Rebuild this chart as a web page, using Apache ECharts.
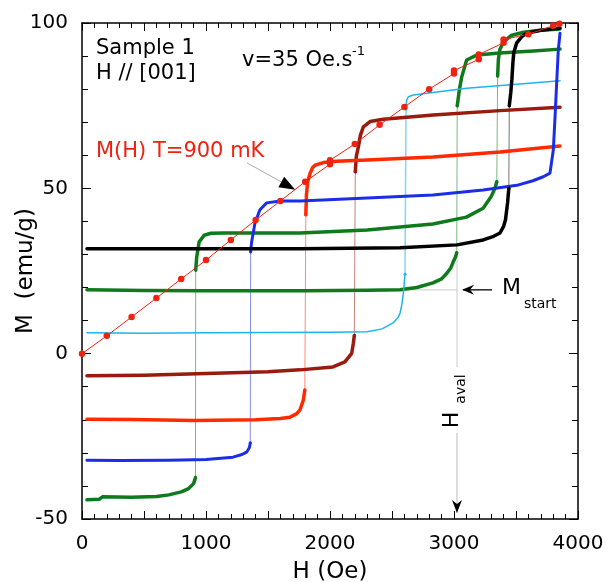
<!DOCTYPE html>
<html><head><meta charset="utf-8">
<script src="https://cdn.jsdelivr.net/npm/echarts@6/dist/echarts.min.js"></script>
<style>html,body{margin:0;padding:0;background:#fff}#c{width:608px;height:582px}</style>
</head><body><div id="c"></div>
<script>
// ---- tick labels ----
const xTickLabels = [0, 1000, 2000, 3000, 4000];
const yTickLabels = [-50, 0, 50, 100];

// ---- data: [H (Oe), M (emu/g)] ----
// dark green curve 1 (starts -44, avalanches at ~917 and ~3350)
const green1A = [[40,-44.2],[140,-44],[165,-43.3],[400,-43.4],[600,-43.2],[700,-42.7],[800,-41.8],[860,-40.8],[900,-39.3],[915,-37.5]];
const green1B = [[917,25.3],[925,29.2],[945,33.8],[985,35.8],[1040,36.4],[1150,36.5],[1760,36.5],[2300,37.4],[2830,39.2],[3100,41.3],[3235,44],[3300,47.5],[3330,50],[3345,52]];
const green1C = [[3352,84],[3358,89],[3370,92],[3400,94.3],[3460,96.2],[3560,97.2],[3700,97.8],[3855,98.2]];
// dark green curve 2 (starts 19.3 = Mstart, avalanche at Haval ~3024)
const green2A = [[40,19.3],[500,19.1],[1000,19],[1800,19],[2300,19.2],[2565,19.3],[2700,20],[2830,21.4],[2900,22.6],[2944,24.4],[2975,26],[2993,27.7],[3012,29.2],[3022,30.5]];
const green2B = [[3026,75],[3043,79.7],[3062,83.7],[3102,88.8],[3183,90.3],[3371,90.9],[3640,91.5],[3855,92.1]];
// black
const blackA = [[40,31.7],[1000,31.7],[1760,31.7],[2565,32],[3024,32.9],[3235,34.4],[3320,35.5],[3371,36.5],[3400,38.5],[3415,40.4],[3432,45.6],[3442,50]];
const blackB = [[3446,75],[3458,79],[3467,83],[3475,88],[3482,91],[3506,94],[3550,96],[3590,97],[3700,97.8],[3855,98.5]];
// blue
const blueA = [[40,-32.2],[300,-32.3],[700,-32.2],[1000,-32],[1218,-31.3],[1290,-30.5],[1330,-29.7],[1350,-28.4],[1357,-27]];
const blueB = [[1360,30.8],[1368,33.8],[1395,39.5],[1435,43.5],[1489,45.6],[1597,46.2],[1760,46.2],[2300,47.1],[2830,48],[3235,49.5],[3507,50.9],[3636,52.3],[3720,53.5],[3774,54.6],[3801,61.6],[3815,71.7],[3828,81.8],[3841,91.8],[3855,96.9]];
// red
const redA = [[40,-19.8],[400,-19.9],[900,-20.2],[1400,-20],[1600,-19.6],[1677,-19.2],[1730,-18.2],[1758,-17],[1785,-14],[1797,-11]];
const redB = [[1805,42],[1810,48],[1820,52],[1839,54.5],[1860,56.3],[1880,57],[1946,57.8],[2050,58.2],[2300,58.6],[2830,59.5],[3371,61],[3855,62.8]];
// maroon
const maroonA = [[40,-6.7],[500,-6.5],[1000,-6],[1500,-5.5],[1758,-4.9],[2024,-4],[2120,-2.5],[2175,0.1],[2188,3.1],[2196,5.5]];
const maroonB = [[2204,55],[2212,59.6],[2229,62.6],[2245,66],[2269,68.6],[2323,70.2],[2430,70.9],[2833,72.2],[3371,73.5],[3855,74.5]];
// light blue
const cyanA = [[40,6.3],[500,6.2],[1000,6.3],[1500,6.4],[2000,6.5],[2300,6.6],[2420,7.5],[2508,9.3],[2550,11],[2565,12.3],[2580,15],[2592,18.4],[2605,24]];
const cyanB = [[2613,74],[2618,76.7],[2632,77.7],[2672,78.2],[3102,80.3],[3855,82.5]];
// M(H) at T = 900 mK
const mhH = [0,200,400,600,800,1000,1200,1400,1600,1800,2000,2000,2200,2400,2600,2800,3000,3000,3200,3200,3400,3400,3600,3800,3850];
const mhM = [0,5.4,11.1,16.8,22.6,28.3,34.4,40.4,46.2,52,57.3,58.5,63.4,69.2,74.6,80,84.7,85.6,89,90.5,94,95,96.6,99.2,99.8];

// ---- styles ----
const C = {green:'#0e7a1c', black:'#000000', blue:'#1c2de8', red:'#ff2a00', maroon:'#9a1a0e', cyan:'#1cb4f0', mh:'#ee2211'};
const FONT = 'DejaVu Sans';

const groups = [
  {branches:[green1A, green1B, green1C], color:C.green, w:3.5, jw:1},
  {branches:[green2A, green2B], color:C.green, w:3.5, jw:1},
  {branches:[cyanA, cyanB], color:C.cyan, w:1.5, jw:1.5},
  {branches:[maroonA, maroonB], color:C.maroon, w:3.5, jw:1},
  {branches:[redA, redB], color:C.red, w:3.5, jw:1},
  {branches:[blueA, blueB], color:C.blue, w:3, jw:1},
  {branches:[blackA, blackB], color:C.black, w:3.5, jw:1}
];

const series = [];
groups.forEach(g => {
  for (let i = 0; i < g.branches.length - 1; i++) {
    const a = g.branches[i], b = g.branches[i+1];
    series.push({type:'line', data:[a[a.length-1], b[0]], symbol:'circle', symbolSize:3, showSymbol:true,
      itemStyle:{color:g.color}, lineStyle:{color:g.color, width:g.jw, opacity:0.55}, z:2, animation:false, silent:true});
  }
});
groups.forEach(g => {
  g.branches.forEach(br => {
    series.push({type:'line', data:br, symbol:'none', lineStyle:{color:g.color, width:g.w, cap:'round', join:'round'}, z:3, animation:false, silent:true});
  });
});
series.push({type:'line', data:mhH.map((h,i)=>[h, mhM[i]]), symbol:'circle', symbolSize:6.5,
  itemStyle:{color:C.mh}, lineStyle:{color:C.mh, width:1}, z:4, animation:false, silent:true});

const axisCommon = {
  axisLine:{show:true, onZero:false, lineStyle:{color:'#000', width:1.5}},
  splitLine:{show:false},
  nameMoveOverlap:false
};

const chart = echarts.init(document.getElementById('c'), null, {renderer:'canvas'});
chart.setOption({
  backgroundColor:'#fff',
  animation:false,
  grid:{left:82, right:30, top:23, bottom:63, containLabel:false, outerBoundsMode:'none'},
  xAxis:[
    Object.assign({type:'value', min:0, max:4000, interval:500, position:'bottom',
      name:'H (Oe)', nameLocation:'middle', nameGap:42, nameTextStyle:{fontFamily:FONT, fontSize:23, color:'#000'},
      axisTick:{inside:true, length:8, lineStyle:{color:'#000', width:1}},
      minorTick:{show:true, splitNumber:5, length:5, lineStyle:{color:'#000', width:1}},
      axisLabel:{fontFamily:FONT, fontSize:20, color:'#000', margin:15,
        formatter:v => xTickLabels.includes(v) ? String(v) : ''}}, axisCommon),
    Object.assign({type:'value', min:0, max:4000, interval:500, position:'top',
      axisTick:{inside:true, length:8, lineStyle:{color:'#000', width:1}},
      minorTick:{show:true, splitNumber:5, length:5, lineStyle:{color:'#000', width:1}},
      axisLabel:{show:false}}, axisCommon)
  ],
  yAxis:[
    Object.assign({type:'value', min:-50, max:100, interval:50, position:'left',
      name:'M  (emu/g)', nameLocation:'middle', nameRotate:90, nameGap:44,
      nameTextStyle:{fontFamily:FONT, fontSize:23, color:'#000'},
      axisTick:{inside:true, length:9, lineStyle:{color:'#000', width:1}},
      minorTick:{show:true, splitNumber:5, length:6, lineStyle:{color:'#000', width:1}},
      axisLabel:{fontFamily:FONT, fontSize:20, color:'#000', margin:14,
        formatter:v => yTickLabels.includes(v) ? String(v) : ''}}, axisCommon),
    Object.assign({type:'value', min:-50, max:100, interval:50, position:'right',
      axisTick:{inside:true, length:9, lineStyle:{color:'#000', width:1}},
      minorTick:{show:true, splitNumber:5, length:6, lineStyle:{color:'#000', width:1}},
      axisLabel:{show:false}}, axisCommon)
  ],
  series: series
});

// ---- annotations ----
const P = (h, m) => chart.convertToPixel({xAxisIndex:0, yAxisIndex:0}, [h, m]);
const txt = (x, y, text, size, fill, extra) => Object.assign({type:'text', x, y, silent:true, z:10,
  style:{text, fontFamily:FONT, fontSize:size, fill:fill || '#000', align:'left', verticalAlign:'middle'}}, extra || {});

const g = [];
g.push(txt(96, 49, 'Sample 1', 21));
g.push(txt(96, 74, 'H // [001]', 21));
g.push(txt(242, 61, 'v=35 Oe.s', 21));
g.push(txt(352, 52, '-1', 13));
g.push(txt(96, 152, 'M(H) T=900 mK', 21, C.mh));

// arrow to M(H) curve
const a0 = P(1330, 57.7), a1 = P(1720, 49.6);
{
  const dx = a1[0]-a0[0], dy = a1[1]-a0[1], L = Math.hypot(dx, dy), ux = dx/L, uy = dy/L;
  const hl = 16, hw = 6;
  const bx = a1[0]-ux*hl, by = a1[1]-uy*hl;
  g.push({type:'line', silent:true, z:9, shape:{x1:a0[0], y1:a0[1], x2:bx, y2:by}, style:{stroke:'#aaaaaa', lineWidth:1}});
  g.push({type:'polygon', silent:true, z:9, shape:{points:[[a1[0],a1[1]],[bx-uy*hw, by+ux*hw],[bx+uy*hw, by-ux*hw]]}, style:{fill:'#000'}});
}

// Mstart annotation
const ms0 = P(2590, 19.3), ms1 = P(3030, 19.3);
g.push({type:'line', silent:true, z:1, shape:{x1:ms0[0], y1:ms0[1], x2:ms1[0], y2:ms1[1]}, style:{stroke:'#cccccc', lineWidth:1}});
const mt = P(3065, 19.3), mtail = P(3307, 19.3);
g.push({type:'line', silent:true, z:9, shape:{x1:mt[0]+1, y1:mt[1], x2:mtail[0], y2:mtail[1]}, style:{stroke:'#000', lineWidth:1.3}});
g.push({type:'polygon', silent:true, z:9, shape:{points:[[mt[0],mt[1]],[mt[0]+12,mt[1]-5],[mt[0]+8,mt[1]],[mt[0]+12,mt[1]+5]]}, style:{fill:'#000'}});
g.push(txt(502, 288, 'M', 22));
g.push(txt(524, 304, 'start', 14));

// Haval annotation
const hv0 = P(3024, 29.5), hvAxis = P(3024, -50);
g.push({type:'line', silent:true, z:1, shape:{x1:hv0[0], y1:hv0[1], x2:hv0[0], y2:367}, style:{stroke:'#cccccc', lineWidth:1}});
g.push({type:'line', silent:true, z:1, shape:{x1:hv0[0], y1:433, x2:hv0[0], y2:hvAxis[1]-6}, style:{stroke:'#bbbbbb', lineWidth:1}});
const tipY = hvAxis[1]-6;
g.push({type:'polygon', silent:true, z:9, shape:{points:[[hv0[0],tipY],[hv0[0]-5,tipY-13],[hv0[0],tipY-9],[hv0[0]+5,tipY-13]]}, style:{fill:'#000'}});
g.push({type:'text', x:452, y:420, rotation:Math.PI/2, silent:true, z:10, style:{text:'H', fontFamily:FONT, fontSize:22, fill:'#000', align:'center', verticalAlign:'middle'}});
g.push({type:'text', x:461, y:389, rotation:Math.PI/2, silent:true, z:10, style:{text:'aval', fontFamily:FONT, fontSize:14, fill:'#000', align:'center', verticalAlign:'middle'}});

chart.setOption({graphic:{elements:g}});
</script>
</body></html>
